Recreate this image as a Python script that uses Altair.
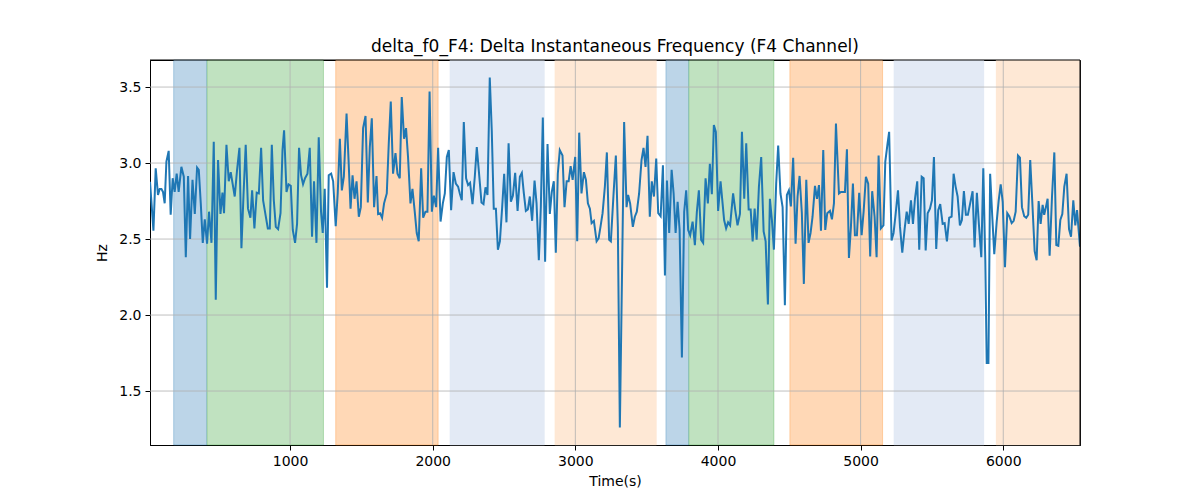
import altair as alt
import pandas as pd

# ---- line series (time in s, delta f0 in Hz) ----
time_s = [
    18, 42, 58, 74, 86, 98, 109, 121, 133, 149, 163, 177, 191, 205, 219, 238, 255, 269, 285, 299,
    316, 332, 348, 360, 374, 388, 402, 418, 432, 449, 465, 479, 495, 512, 526, 537, 554, 570, 584, 598,
    612, 628, 645, 659, 674, 689, 705, 722, 734, 750, 766, 781, 797,
    811, 830, 844, 858, 872, 886, 900, 916, 933, 947, 958, 975, 989, 1005, 1019, 1035, 1049, 1063, 1077, 1091,
    1105, 1122, 1138, 1154, 1168, 1185, 1201, 1217, 1229, 1243, 1259, 1271, 1288, 1302, 1320, 1334, 1349, 1363,
    1377, 1396, 1410, 1424, 1438, 1452, 1466, 1482, 1496, 1512, 1529, 1545, 1559, 1573, 1589, 1606,
    1617, 1631, 1645, 1659, 1678, 1692, 1706, 1722, 1739, 1753, 1769, 1783, 1799, 1813, 1827, 1844, 1858, 1874,
    1888, 1902, 1919, 1933, 1949, 1963, 1978, 1994, 2008, 2024, 2038, 2055, 2071, 2085, 2099, 2113, 2129, 2146,
    2162, 2178, 2190, 2204, 2218, 2234, 2248, 2262, 2279, 2295, 2309, 2325, 2342, 2356, 2370, 2384, 2400, 2414, 2428,
    2443, 2457, 2471, 2487, 2501, 2517, 2532, 2548, 2562, 2578, 2595, 2611, 2625, 2639, 2653, 2667, 2681, 2697,
    2714, 2728, 2744, 2758, 2772, 2788, 2805, 2821, 2835, 2849, 2863, 2877, 2891, 2910, 2924, 2939, 2953, 2967,
    2981, 2999, 3013, 3027, 3043, 3060, 3074, 3088, 3102, 3114, 3130, 3149, 3163, 3177, 3191, 3207, 3221, 3237,
    3249, 3268, 3284, 3298, 3312, 3328, 3342, 3359, 3370, 3384, 3403, 3417, 3431, 3447, 3464, 3478, 3492, 3506,
    3522, 3536, 3551, 3567, 3581, 3598, 3614, 3628, 3642, 3658, 3675, 3689, 3703, 3717, 3731, 3747, 3763, 3777,
    3791, 3805, 3822, 3838, 3852, 3866, 3882, 3896, 3913, 3929, 3943, 3957, 3971, 3985, 4001, 4018,
    4043, 4057, 4071, 4085, 4106, 4121, 4137, 4154, 4168, 4184, 4198, 4215, 4229, 4243, 4257, 4271, 4287, 4303,
    4320, 4334, 4350, 4364, 4378, 4392, 4408, 4422, 4438, 4453, 4469, 4483, 4497, 4511, 4527, 4544, 4558, 4572,
    4588, 4602, 4619, 4635, 4649, 4663, 4680, 4694, 4708, 4722, 4738, 4752, 4766, 4785, 4799, 4813, 4827,
    4848, 4862, 4876, 4890, 4904, 4918, 4932, 4946, 4960, 4974, 4990, 5007, 5021, 5037, 5053, 5067, 5081, 5098,
    5112, 5126, 5142, 5160, 5173, 5189, 5200, 5217, 5231, 5245, 5262, 5276, 5292, 5309, 5323, 5337, 5353, 5367,
    5381, 5397, 5411, 5428, 5442, 5456, 5470, 5486, 5500, 5514, 5530, 5544, 5558, 5575, 5589, 5605, 5621,
    5638, 5652, 5666, 5680, 5696, 5710, 5724, 5738, 5752, 5768, 5785, 5799, 5815, 5829, 5846, 5860, 5874, 5884,
    5896, 5908, 5923, 5937, 5954, 5968, 5982, 5996, 6012, 6028, 6042, 6059, 6073, 6087, 6103, 6117, 6131, 6147,
    6161, 6175, 6189, 6203, 6220, 6234, 6248, 6262, 6276, 6287, 6299, 6311, 6325, 6342, 6358, 6372, 6386, 6400,
    6414, 6428, 6444, 6461, 6475, 6491, 6505, 6517, 6538,
]
delta_f0 = [
    2.877, 2.555, 2.965, 2.79, 2.83, 2.83, 2.81, 2.735, 3.01, 3.08, 2.66, 2.9, 2.81, 2.93, 2.81, 2.975, 2.91, 2.38, 2.915, 2.5,
    2.89, 2.665, 2.97, 2.955, 2.735, 2.475, 2.63, 2.47, 2.68, 2.475, 3.14, 2.1, 3.02, 2.665, 2.805, 2.67, 3.12, 2.88, 2.94, 2.86,
    2.78, 2.95, 3.1, 2.44, 2.8, 3.12, 2.7, 2.64, 2.82, 2.57, 2.805, 2.8, 3.1,
    2.755, 2.647, 2.57, 2.57, 3.12, 2.755, 2.58, 2.565, 2.67, 3.085, 3.215, 2.81, 2.86, 2.85, 2.56, 2.475, 2.6, 3.1, 2.92, 2.86,
    2.9, 2.93, 3.1, 2.515, 2.88, 2.475, 3.17, 2.68, 2.54, 2.83, 2.18, 2.92, 2.93, 2.88, 2.585, 2.8, 3.16, 2.82,
    2.91, 3.325, 3.02, 2.7, 2.92, 2.765, 2.88, 2.647, 2.71, 3.23, 3.31, 2.74, 3.105, 3.295, 2.71, 2.915,
    2.665, 2.67, 2.64, 2.735, 2.8, 3.13, 3.405, 2.93, 3.065, 2.93, 2.9, 3.435, 3.16, 3.23, 3.04, 2.735, 2.83, 2.68,
    2.54, 2.485, 2.965, 2.64, 2.68, 2.68, 3.47, 2.68, 2.785, 2.71, 3.1, 2.615, 2.735, 2.8, 3.04, 3.085, 2.69, 2.94,
    2.865, 2.845, 2.8, 2.755, 3.27, 2.9, 2.855, 2.87, 2.73, 2.91, 3.105, 2.93, 2.74, 2.73, 2.84, 2.79, 3.563, 3.215, 2.7,
    2.7, 2.43, 2.485, 2.71, 2.93, 2.61, 3.13, 2.745, 2.785, 2.935, 2.685, 2.91, 2.935, 2.8, 2.685, 2.695, 2.78, 2.62,
    2.885, 2.735, 2.36, 2.71, 3.3, 2.35, 3.125, 2.665, 2.81, 2.88, 2.41, 2.93, 3.085, 3.05, 2.71, 2.88, 2.88, 2.98,
    2.89, 3.04, 2.485, 3.2, 2.8, 2.94, 2.89, 2.735, 2.7, 2.605, 2.62, 2.485, 2.505, 2.585, 2.67, 2.845, 3.07, 2.495,
    2.485, 2.8, 3.05, 2.58, 1.26, 2.32, 3.27, 2.71, 2.79, 2.735, 2.58, 2.647, 2.68, 2.8, 3.02, 3.1, 2.975, 3.18,
    2.647, 2.88, 2.78, 3.03, 2.67, 2.65, 2.985, 2.26, 2.885, 2.54, 2.955, 2.8, 2.54, 2.745, 2.56, 1.72, 2.68, 2.82,
    2.56, 2.525, 2.615, 2.46, 2.68, 2.82, 2.495, 2.475, 2.9, 2.735, 2.995, 2.795, 3.25, 3.205, 2.685, 2.88,
    2.625, 2.57, 2.61, 2.59, 2.8, 2.69, 2.59, 2.665, 3.205, 2.765, 3.13, 2.695, 2.695, 2.485, 2.7, 2.495, 2.845, 3.04,
    2.55, 2.485, 2.07, 2.765, 2.625, 2.43, 2.865, 3.115, 2.8, 2.71, 2.065, 2.79, 2.82, 2.715, 3.035, 2.47, 2.78, 2.915,
    2.67, 2.205, 2.89, 2.475, 2.54, 2.647, 2.85, 2.765, 2.855, 2.555, 3.085, 2.56, 2.67, 2.685, 2.63, 2.735, 3.26,
    2.8, 2.81, 2.81, 2.81, 3.09, 2.375, 2.58, 2.865, 2.525, 2.525, 2.805, 2.525, 2.68, 2.91, 2.865, 2.385, 2.815, 2.647,
    2.38, 3.05, 2.57, 2.59, 3.01, 3.13, 3.205, 2.49, 2.54, 2.66, 2.82, 2.58, 2.41, 2.57, 2.68, 2.6, 2.755, 2.6,
    2.765, 2.88, 2.43, 2.91, 2.9, 2.425, 2.67, 2.7, 2.755, 3.04, 2.435, 2.69, 2.73, 2.6, 2.605, 2.485, 2.64,
    2.647, 2.93, 2.845, 2.78, 2.59, 2.625, 2.815, 2.66, 2.66, 2.735, 2.815, 2.445, 2.805, 2.6, 2.38, 2.965, 2.36, 1.685,
    1.685, 2.93, 2.647, 2.4, 2.615, 2.755, 2.86, 2.745, 2.315, 2.67, 2.65, 2.605, 2.62, 2.68, 3.05, 3.035, 2.71, 2.65,
    2.64, 2.66, 3.02, 2.755, 2.42, 2.36, 2.75, 2.6, 2.725, 2.66, 2.71, 2.765, 2.39, 2.785, 3.07, 2.46, 2.455, 2.625,
    2.665, 2.845, 2.93, 2.565, 2.515, 2.755, 2.59, 2.69, 2.45,
]
assert len(time_s) == len(delta_f0), (len(time_s), len(delta_f0))

# ---- shaded intervals ----
span_start = [184, 418, 1320, 2120, 2856, 3635, 3796, 4504, 5233, 5949]
span_end = [418, 1234, 2038, 2784, 3569, 3796, 4392, 5154, 5865, 6538]
span_fill = ["#bcd5e8", "#c0e2c0", "#ffd8b6", "#e3eaf5", "#fee8d5",
             "#bcd5e8", "#c0e2c0", "#ffd8b6", "#e3eaf5", "#fee8d5"]
span_edge = ["#1f77b4", "#2ca02c", "#ff7f0e", "#e3eaf5", "#fee8d5",
             "#1f77b4", "#2ca02c", "#ff7f0e", "#e3eaf5", "#fee8d5"]

x_ticks = [1000, 2000, 3000, 4000, 5000, 6000]
y_ticks = [1.5, 2.0, 2.5, 3.0, 3.5]
x_range = [18, 6538]
y_range = [1.145, 3.678]

line_df = pd.DataFrame({"t": time_s, "v": delta_f0})
span_df = pd.DataFrame({"s": span_start, "e": span_end, "fill": span_fill, "edge": span_edge})
xgrid_df = pd.DataFrame({"xt": x_ticks})
ygrid_df = pd.DataFrame({"yt": y_ticks})

xscale = alt.Scale(domain=x_range, nice=False, zero=False)
yscale = alt.Scale(domain=y_range, nice=False, zero=False)

axis_common = dict(
    grid=False, tickSize=5, tickColor="black", tickWidth=1,
    domainColor="black", domainWidth=1,
    labelFontSize=14, labelColor="black", labelFont="DejaVu Sans",
    titleFontSize=14, titleColor="black", titleFont="DejaVu Sans", titleFontWeight="normal",
    labelPadding=4,
)
xaxis = alt.Axis(values=x_ticks, format="d", title="Time(s)", titlePadding=6, **axis_common)
yaxis = alt.Axis(values=y_ticks, format=".1f", title="Hz", titlePadding=9, **axis_common)

spans = alt.Chart(span_df).mark_rect(strokeOpacity=0.3, strokeWidth=1).encode(
    x=alt.X("s:Q", scale=xscale, axis=xaxis),
    x2="e:Q",
    fill=alt.Fill("fill:N", scale=None),
    stroke=alt.Stroke("edge:N", scale=None),
)

xgrid = alt.Chart(xgrid_df).mark_rule(color="#b0b0b0", strokeWidth=0.8).encode(
    x=alt.X("xt:Q", scale=xscale, axis=xaxis),
)
ygrid = alt.Chart(ygrid_df).mark_rule(color="#b0b0b0", strokeWidth=0.8).encode(
    y=alt.Y("yt:Q", scale=yscale, axis=yaxis),
)

line = alt.Chart(line_df).mark_line(color="#1f77b4", strokeWidth=2, clip=True).encode(
    x=alt.X("t:Q", scale=xscale, axis=xaxis),
    y=alt.Y("v:Q", scale=yscale, axis=yaxis),
)

# top and right spines drawn over the shaded spans
top_spine = alt.Chart().mark_rule(color="black", strokeWidth=1).encode(
    y=alt.Y(datum=y_range[1], scale=yscale, axis=yaxis),
)
right_spine = alt.Chart().mark_rule(color="black", strokeWidth=1).encode(
    x=alt.X(datum=x_range[1], scale=xscale, axis=xaxis),
)

chart = alt.layer(spans, xgrid, ygrid, line, top_spine, right_spine).properties(
    width=930,
    height=385,
    autosize="none",
    padding={"left": 142, "top": 52, "right": 112, "bottom": 47},
    title=alt.TitleParams(
        "delta_f0_F4: Delta Instantaneous Frequency (F4 Channel)",
        fontSize=17, fontWeight="normal", font="DejaVu Sans", color="black",
        anchor="middle", offset=4,
    ),
).configure(
    font="DejaVu Sans",
    view=alt.ViewConfig(stroke="black", strokeWidth=1),
)

chart.save("out.html", embed_options={"renderer": "svg", "actions": False})
